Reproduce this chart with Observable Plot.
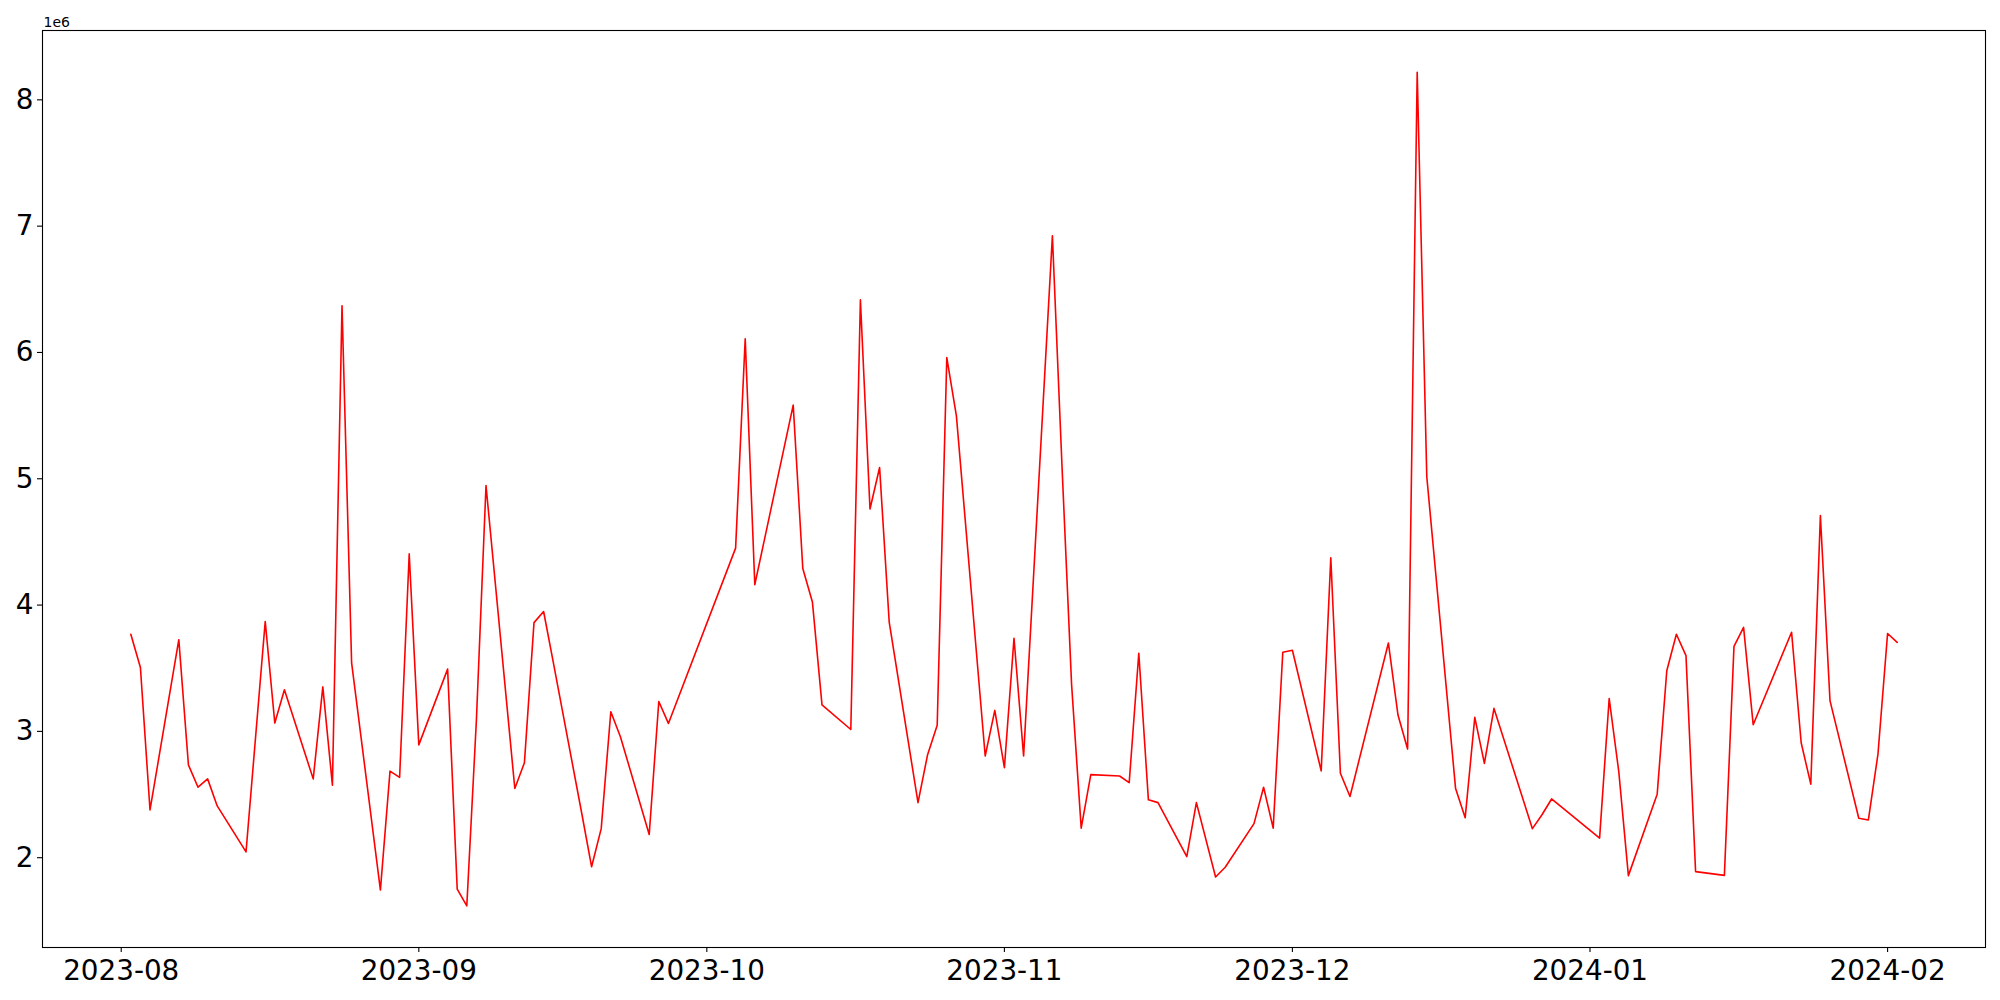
<!DOCTYPE html>
<html>
<head>
<meta charset="utf-8">
<script src="https://cdn.jsdelivr.net/npm/d3@7"></script>
<script src="https://cdn.jsdelivr.net/npm/@observablehq/plot@0.6"></script>
<style>
  html, body { margin: 0; padding: 0; background: white; }
  #chart { width: 2000px; height: 1000px; }
</style>
</head>
<body>
<div id="chart"></div>
<script>
const dates = [
  "2023-08-02","2023-08-03","2023-08-04","2023-08-07","2023-08-08","2023-08-09","2023-08-10","2023-08-11",
  "2023-08-14","2023-08-16","2023-08-17","2023-08-18","2023-08-21","2023-08-22","2023-08-23","2023-08-24",
  "2023-08-25","2023-08-28","2023-08-29","2023-08-30","2023-08-31","2023-09-01","2023-09-04","2023-09-05",
  "2023-09-06","2023-09-07","2023-09-08","2023-09-11","2023-09-12","2023-09-13","2023-09-14","2023-09-15",
  "2023-09-18","2023-09-19","2023-09-20","2023-09-21","2023-09-22","2023-09-25","2023-09-26","2023-09-27",
  "2023-10-04","2023-10-05","2023-10-06","2023-10-10","2023-10-11","2023-10-12","2023-10-13","2023-10-16",
  "2023-10-17","2023-10-18","2023-10-19","2023-10-20","2023-10-23","2023-10-24","2023-10-25","2023-10-26",
  "2023-10-27","2023-10-30","2023-10-31","2023-11-01","2023-11-02","2023-11-03","2023-11-06","2023-11-07",
  "2023-11-08","2023-11-09","2023-11-10","2023-11-13","2023-11-14","2023-11-15","2023-11-16","2023-11-17",
  "2023-11-20","2023-11-21","2023-11-23","2023-11-24","2023-11-27","2023-11-28","2023-11-29","2023-11-30",
  "2023-12-01","2023-12-04","2023-12-05","2023-12-06","2023-12-07","2023-12-11","2023-12-12","2023-12-13",
  "2023-12-14","2023-12-15","2023-12-18","2023-12-19","2023-12-20","2023-12-21","2023-12-22","2023-12-26",
  "2023-12-27","2023-12-28","2024-01-02","2024-01-03","2024-01-04","2024-01-05","2024-01-08","2024-01-09",
  "2024-01-10","2024-01-11","2024-01-12","2024-01-15","2024-01-16","2024-01-17","2024-01-18","2024-01-22",
  "2024-01-23","2024-01-24","2024-01-25","2024-01-26","2024-01-29","2024-01-30","2024-01-31","2024-02-01",
  "2024-02-02"
];
const values = [
  3769000,3506000,2378000,3726000,2735000,2558000,2624000,2410000,
  2046000,3870000,3066000,3329000,2624000,3352000,2574000,6370000,
  3542000,1744000,2685000,2636000,4405000,2893000,3493000,1751000,
  1619000,3090000,4947000,2548000,2751000,3861000,3949000,3550000,
  2340000,1928000,2230000,3155000,2958000,2184000,3237000,3063000,
  4451000,6108000,4162000,5583000,4290000,4025000,3210000,3015000,
  6416000,4761000,5089000,3866000,2436000,2816000,3048000,5959000,
  5498000,2805000,3166000,2713000,3737000,2805000,6924000,5100000,
  3370000,2234000,2658000,2647000,2594000,3619000,2458000,2436000,
  2009000,2436000,1847000,1924000,2270000,2558000,2234000,3627000,
  3642000,2687000,4374000,2669000,2485000,3700000,3129000,2860000,
  8219000,5016000,2547000,2317000,3111000,2747000,3182000,2230000,
  2340000,2465000,2155000,3260000,2681000,1858000,2503000,3480000,
  3769000,3600000,1890000,1860000,3673000,3823000,3053000,3785000,
  2910000,2582000,4708000,3244000,2312000,2299000,2821000,3775000,
  3705000
];
const xTicks = ["2023-08-01","2023-09-01","2023-10-01","2023-11-01","2023-12-01","2024-01-01","2024-02-01"];
const yTicks = [2000000,3000000,4000000,5000000,6000000,7000000,8000000];
const offsetLabel = "1e6";

const parse = d3.utcParse("%Y-%m-%d");
const data = dates.map((d, i) => ({date: parse(d), value: values[i]}));

// matplotlib-like 5% margins
const xExt = d3.extent(data, d => d.date);
const xPad = (xExt[1] - xExt[0]) * 0.05;
const yExt = d3.extent(data, d => d.value);
const yPad = (yExt[1] - yExt[0]) * 0.05;

const chart = Plot.plot({
  width: 2000,
  height: 1000,
  marginLeft: 42,
  marginRight: 15,
  marginTop: 30,
  marginBottom: 53,
  style: {fontFamily: "'DejaVu Sans', sans-serif", background: "white", color: "black"},
  x: {type: "utc", domain: [new Date(+xExt[0] - xPad), new Date(+xExt[1] + xPad)]},
  y: {domain: [yExt[0] - yPad, yExt[1] + yPad]},
  marks: [
    Plot.axisX({ticks: xTicks.map(parse), tickFormat: d3.utcFormat("%Y-%m"), tickSize: 5, tickPadding: 8, fontSize: 27.8, label: null, strokeWidth: 1.1}),
    Plot.axisY({ticks: yTicks, tickFormat: d => String(d / 1e6), tickSize: 5, tickPadding: 4, fontSize: 27.8, label: null, strokeWidth: 1.1}),
    Plot.lineY(data, {x: "date", y: "value", stroke: "red", strokeWidth: 1.6}),
    Plot.frame({stroke: "black", strokeWidth: 1.1}),
    Plot.text([offsetLabel], {frameAnchor: "top-left", textAnchor: "start", lineAnchor: "bottom", dy: -4, dx: 1, fontSize: 14, fill: "black"})
  ]
});
document.getElementById("chart").appendChild(chart);
</script>
</body>
</html>
